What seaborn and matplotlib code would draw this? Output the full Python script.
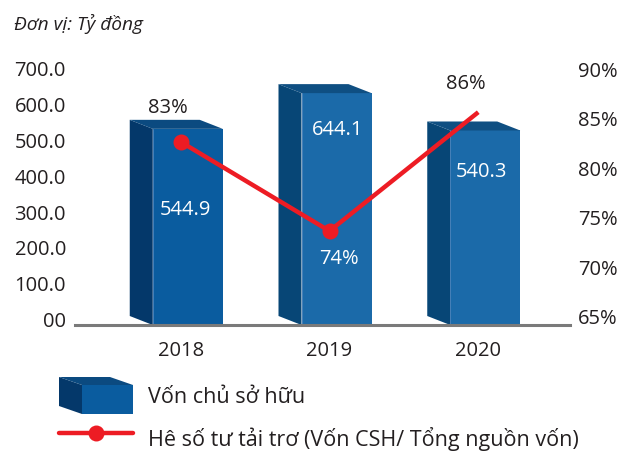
import numpy as np
import pandas as pd
import matplotlib
matplotlib.use("Agg")
import matplotlib.pyplot as plt
import seaborn as sns
from matplotlib.patches import Polygon, Patch
from matplotlib.lines import Line2D
from matplotlib.legend_handler import HandlerBase
from matplotlib.transforms import ScaledTranslation

# ---------------- data ----------------
years = ["2018", "2019", "2020"]
equity = [544.9, 644.1, 540.3]
ratio = [83, 74, 86]
equity_labels = ["544.9", "644.1", "540.3"]
ratio_labels = ["83%", "74%", "86%"]
left_ticks = [0, 100, 200, 300, 400, 500, 600, 700]
left_tick_labels = ["00", "100.0", "200.0", "300.0", "400.0", "500.0", "600.0", "700.0"]
right_ticks = [65, 70, 75, 80, 85, 90]
right_tick_labels = ["65%", "70%", "75%", "80%", "85%", "90%"]
unit_label = "Đơn vị: Tỷ đồng"
legend_labels = ["Vốn chủ sở hữu", "Hê số tư tải trơ (Vốn CSH/ Tổng nguồn vốn)"]

# ---------------- style ----------------
sns.set_theme(style="white")
plt.rcParams["font.family"] = ["Open Sans", "DejaVu Sans"]

TXT = "#231f20"
RED = "#ed1c24"
front_colors = ["#0a5c9f", "#1b6aa9", "#1b6aa9"]
side_colors = ["#04386a", "#074676", "#074676"]
top_colors = ["#0b4a80", "#0f4f82", "#0f4f82"]

W, H, DPI = 623, 452, 100
fig = plt.figure(figsize=(W / DPI, H / DPI), dpi=DPI)
fig.patch.set_facecolor("white")
AX_L, AX_R, AX_T, AX_B = 75, 570, 68, 326
ax = fig.add_axes([AX_L / W, 1 - AX_B / H, (AX_R - AX_L) / W, (AX_B - AX_T) / H])

df = pd.DataFrame({"year": years, "equity": equity, "ratio": ratio})

PX_PER_CAT = 148.75
FIRST_CENTER = 187.75
XL = (-(FIRST_CENTER - AX_L) / PX_PER_CAT, (AX_R - FIRST_CENTER) / PX_PER_CAT)
YL = (0, (AX_B - AX_T) / 36.0 * 100)
R_PX = 9.9
R_BOTTOM = 74 - (AX_B - 232) / R_PX
YR = (R_BOTTOM, R_BOTTOM + (AX_B - AX_T) / R_PX)

sns.barplot(data=df, x="year", y="equity", hue="year", palette=front_colors,
            width=70 / PX_PER_CAT, saturation=1, legend=False, ax=ax,
            linewidth=0, zorder=2)

ax.set_xlim(*XL)
ax.set_ylim(*YL)

# 3D side / top faces derived from the bar patches
pxx = (AX_R - AX_L) / (XL[1] - XL[0])
pxy = (AX_B - AX_T) / (YL[1] - YL[0])
DX, DY = 23 / pxx, 9 / pxy
bars = [p for p in ax.patches]
for i, p in enumerate(bars):
    x0, w, h = p.get_x(), p.get_width(), p.get_height()
    side = Polygon([(x0 - DX, DY), (x0, 0), (x0, h), (x0 - DX, h + DY)],
                   closed=True, facecolor=side_colors[i], edgecolor="none",
                   zorder=2, clip_on=False)
    top = Polygon([(x0, h), (x0 + w, h), (x0 + w - DX, h + DY), (x0 - DX, h + DY)],
                  closed=True, facecolor=top_colors[i], edgecolor="none",
                  zorder=2, clip_on=False)
    ax.add_patch(side)
    ax.add_patch(top)
    ax.plot([x0, x0], [0, h], color="#4f86bd", lw=0.6, zorder=3)

for s in ["left", "right", "top"]:
    ax.spines[s].set_visible(False)
ax.spines["bottom"].set_color("#7a7a7a")
ax.spines["bottom"].set_linewidth(2.2)
ax.spines["bottom"].set_zorder(4)

ax.set_yticks(left_ticks, left_tick_labels)
ax.tick_params(axis="y", length=0, pad=6.5, labelsize=14.5, labelcolor=TXT)
ax.tick_params(axis="x", length=0, pad=11, labelsize=14.5, labelcolor=TXT)
ax.set_xlabel("")
ax.set_ylabel("")

# value labels inside bars
bar_off = [(-2, -80), (1, -36), (-4, -41)]
for i, v in enumerate(equity):
    ax.annotate(equity_labels[i], xy=(i, v), xytext=bar_off[i],
                textcoords="offset pixels", ha="center", va="center",
                color="white", fontsize=14.5, zorder=5)

# ---------------- ratio line ----------------
ax2 = ax.twinx()
sns.lineplot(data=df, x="year", y="ratio", ax=ax2, color=RED, lw=3.2,
             marker="o", markersize=11.5, markeredgewidth=0,
             markevery=[0, 1], sort=False, zorder=6)
line_shift = ScaledTranslation(-7 / DPI, 0, fig.dpi_scale_trans)
for ln in ax2.lines:
    ln.set_transform(ax2.transData + line_shift)
    ln.set_solid_capstyle("butt")
ax2.set_ylim(*YR)
ax2.set_xlim(*XL)
ax2.set_yticks(right_ticks, right_tick_labels)
ax2.tick_params(axis="y", length=0, pad=5.8, labelsize=14.5, labelcolor=TXT)
ax2.set_ylabel("")
for s in ax2.spines.values():
    s.set_visible(False)

ratio_off = [(-20, 35), (2, -27), (-19, 29)]
ratio_col = [TXT, "white", TXT]
for i, v in enumerate(ratio):
    ax2.annotate(ratio_labels[i], xy=(i, v), xytext=ratio_off[i],
                 textcoords="offset pixels", ha="center", va="center",
                 color=ratio_col[i], fontsize=14.5, zorder=7)

# shift tick labels
up_l = ScaledTranslation(0, 0.06, fig.dpi_scale_trans)
for lbl in ax.get_yticklabels():
    lbl.set_transform(lbl.get_transform() + up_l)
up_r = ScaledTranslation(0, 0.045, fig.dpi_scale_trans)
for lbl in ax2.get_yticklabels():
    lbl.set_transform(lbl.get_transform() + up_r)
left_x = ScaledTranslation(-0.07, 0, fig.dpi_scale_trans)
for lbl in ax.get_xticklabels():
    lbl.set_transform(lbl.get_transform() + left_x)

# ---------------- title ----------------
fig.text(14 / W, 1 - 30 / H, unit_label, style="italic", fontsize=13.8,
         color=TXT, va="baseline", ha="left")

# ---------------- legend ----------------
class Box3DHandler(HandlerBase):
    def create_artists(self, legend, orig_handle, xdescent, ydescent, width,
                       height, fontsize, trans):
        x0, y0 = -xdescent, -ydescent
        sx, sy = width / 74.0, height / 37.0

        def poly(pts, c):
            return Polygon([(x0 + a * sx, y0 + b * sy) for a, b in pts],
                           closed=True, facecolor=c, edgecolor="none",
                           transform=trans)
        return [poly([(23, 0), (74, 0), (74, 29), (23, 29)], front_colors[0]),
                poly([(0, 8), (23, 0), (23, 29), (0, 37)], side_colors[0]),
                poly([(23, 29), (74, 29), (51, 37), (0, 37)], top_colors[0])]


box_handle = Patch(facecolor=front_colors[0])
line_handle = Line2D([], [], color=RED, lw=3.2, marker="o", markersize=11.5,
                     markeredgewidth=0)
LEG_FS = 15.5
FS_PX = LEG_FS / 72 * DPI
HH = (37 / FS_PX - 0.245) / 0.65
fig.legend(handles=[box_handle, line_handle], labels=legend_labels,
           handler_map={Patch: Box3DHandler()},
           loc="upper left", bbox_to_anchor=(59 / W, 1 - 378 / H),
           bbox_transform=fig.transFigure, frameon=False, fontsize=LEG_FS,
           labelcolor=TXT, handlelength=74 / FS_PX, handleheight=HH,
           handletextpad=15 / FS_PX, labelspacing=0.28, borderpad=0,
           borderaxespad=0, numpoints=1)

fig.savefig("out.png", dpi=DPI, facecolor="white")
